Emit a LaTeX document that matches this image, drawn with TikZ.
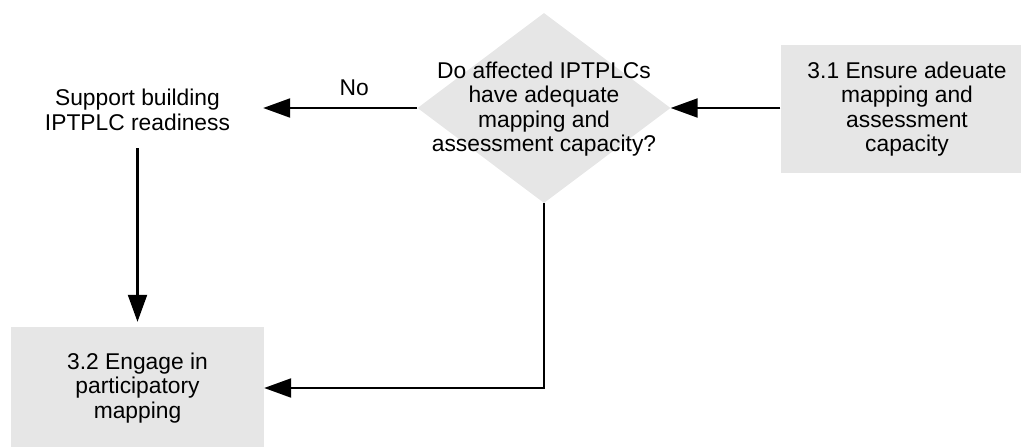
\documentclass[tikz,border=0pt]{standalone}
\usepackage{fontspec}
\setmainfont{Liberation Sans}
\usetikzlibrary{arrows.meta,shapes.geometric}
\definecolor{boxgrey}{RGB}{230,230,230}
\begin{document}
\begin{tikzpicture}[x=1pt,y=-1pt,
  every node/.style={font=\fontsize{22.8}{24.5}\selectfont, align=center, inner sep=0pt},
  stepbox/.style={fill=boxgrey, minimum width=253pt},
  decision/.style={diamond, fill=boxgrey, minimum width=253pt, minimum height=190pt},
  flow/.style={line width=2.2pt, -{Triangle[length=27pt,width=19pt]}}
]
\clip (0,0) rectangle (1021,447);
\useasboundingbox (0,0) rectangle (1021,447);

% decision diamond and its question
\node[decision] (dec) at (544,108) {};
\node (q) at (544,109) {Do affected IPTPLCs\\have adequate\\mapping and\\assessment capacity?};

% process steps
\node[stepbox, minimum height=128pt] (s31) at (907,109) {3.1 Ensure adeuate\\mapping and\\assessment\\capacity};
\node[stepbox, minimum height=122pt] (s32) at (137.5,388) {3.2 Engage in\\participatory\\mapping};
\node[minimum width=251pt, minimum height=76pt] (sup) at (137.5,110) {Support building\\IPTPLC readiness};

% connectors
\draw[flow] (s31.west |- dec.east) -- (dec.east);
\draw[flow] (dec.west) -- node[pos=0.41, yshift=20pt] {No} (dec.west -| sup.east);
\draw[flow, shorten >=5pt] (sup.south) -- (s32.north);
\draw[flow] (dec.south) |- (s32.east);
\end{tikzpicture}
\end{document}
